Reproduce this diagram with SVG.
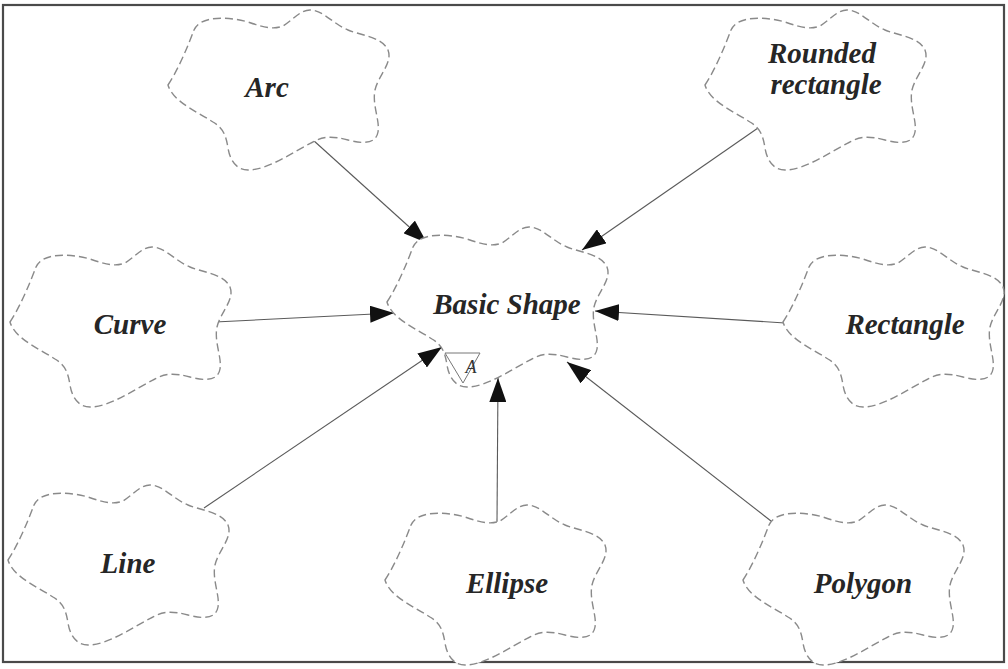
<svg xmlns="http://www.w3.org/2000/svg" xmlns:xlink="http://www.w3.org/1999/xlink" width="1008" height="669" viewBox="0 0 1008 669">
  <style>
    .cloud { fill: #ffffff; stroke: #8a8a8a; stroke-width: 1.4; stroke-dasharray: 8 4; }
    .label { font-family: "Liberation Serif", "Times New Roman", serif; font-weight: bold; font-style: italic; font-size: 29px; fill: #262626; text-anchor: middle; }
    .conn { stroke: #5a5a5a; stroke-width: 1.1; fill: none; marker-end: url(#arrow); }
    .frame { fill: none; stroke: #4a4a4a; stroke-width: 2.2; }
    .abstract { fill: none; stroke: #777; stroke-width: 1; }
    .abstract-text { font-family: "Liberation Serif", "Times New Roman", serif; font-style: italic; font-size: 18px; fill: #333; text-anchor: middle; }
  </style>
  <defs>
    <!-- irregular cloud outline, local box about 222 x 160 -->
    <path id="cloud" d="M 0,75 C 10,60 20,36 26,20 C 32,6 58,6 80,12 C 95,17 105,20 115,16 C 125,10 132,0 142,0 C 155,0 165,14 180,20 C 195,26 214,27 220,40 C 225,53 210,66 207,80 C 204,95 212,110 210,122 C 208,134 195,134 180,130 C 165,126 155,126 145,132 C 125,142 100,160 80,160 C 68,160 62,150 60,138 C 58,125 55,118 45,112 C 30,102 5,92 0,75 Z"/>
    <marker id="arrow" viewBox="0 0 24 17" refX="24" refY="8.5" markerWidth="24" markerHeight="17" markerUnits="userSpaceOnUse" orient="auto">
      <path d="M0,0 L24,8.5 L0,17 Z" fill="#111"/>
    </marker>
  </defs>

  <rect x="0" y="0" width="1008" height="669" fill="#ffffff"/>
  <rect class="frame" x="3" y="5" width="1001" height="657"/>

  <g id="connectors">
    <line class="conn" x1="313" y1="140" x2="427" y2="243"/>
    <line class="conn" x1="758" y1="128" x2="582" y2="250"/>
    <line class="conn" x1="215" y1="322" x2="394" y2="313"/>
    <line class="conn" x1="785" y1="323" x2="595" y2="311"/>
    <line class="conn" x1="204" y1="508" x2="442" y2="347"/>
    <line class="conn" x1="497" y1="522" x2="498" y2="378"/>
    <line class="conn" x1="780" y1="528" x2="567" y2="362"/>
  </g>

  <g id="node-basic-shape">
    <use xlink:href="#cloud" href="#cloud" class="cloud" transform="translate(387,227)"/>
    <text class="label" x="507" y="314">Basic Shape</text>
    <polygon class="abstract" points="445,353 480,353 463,383"/>
    <text class="abstract-text" x="471" y="373">A</text>
  </g>

  <g id="node-arc">
    <use xlink:href="#cloud" href="#cloud" class="cloud" transform="translate(168,10)"/>
    <text class="label" x="267" y="97">Arc</text>
  </g>

  <g id="node-rounded-rectangle">
    <use xlink:href="#cloud" href="#cloud" class="cloud" transform="translate(705,10)"/>
    <text class="label" x="822" y="63">Rounded</text>
    <text class="label" x="826" y="94">rectangle</text>
  </g>

  <g id="node-curve">
    <use xlink:href="#cloud" href="#cloud" class="cloud" transform="translate(10,247)"/>
    <text class="label" x="130" y="334">Curve</text>
  </g>

  <g id="node-rectangle">
    <use xlink:href="#cloud" href="#cloud" class="cloud" transform="translate(783,247)"/>
    <text class="label" x="905" y="334">Rectangle</text>
  </g>

  <g id="node-line">
    <use xlink:href="#cloud" href="#cloud" class="cloud" transform="translate(8,485)"/>
    <text class="label" x="128" y="573">Line</text>
  </g>

  <g id="node-ellipse">
    <use xlink:href="#cloud" href="#cloud" class="cloud" transform="translate(385,505)"/>
    <text class="label" x="507" y="593">Ellipse</text>
  </g>

  <g id="node-polygon">
    <use xlink:href="#cloud" href="#cloud" class="cloud" transform="translate(743,505)"/>
    <text class="label" x="863" y="593">Polygon</text>
  </g>
</svg>
